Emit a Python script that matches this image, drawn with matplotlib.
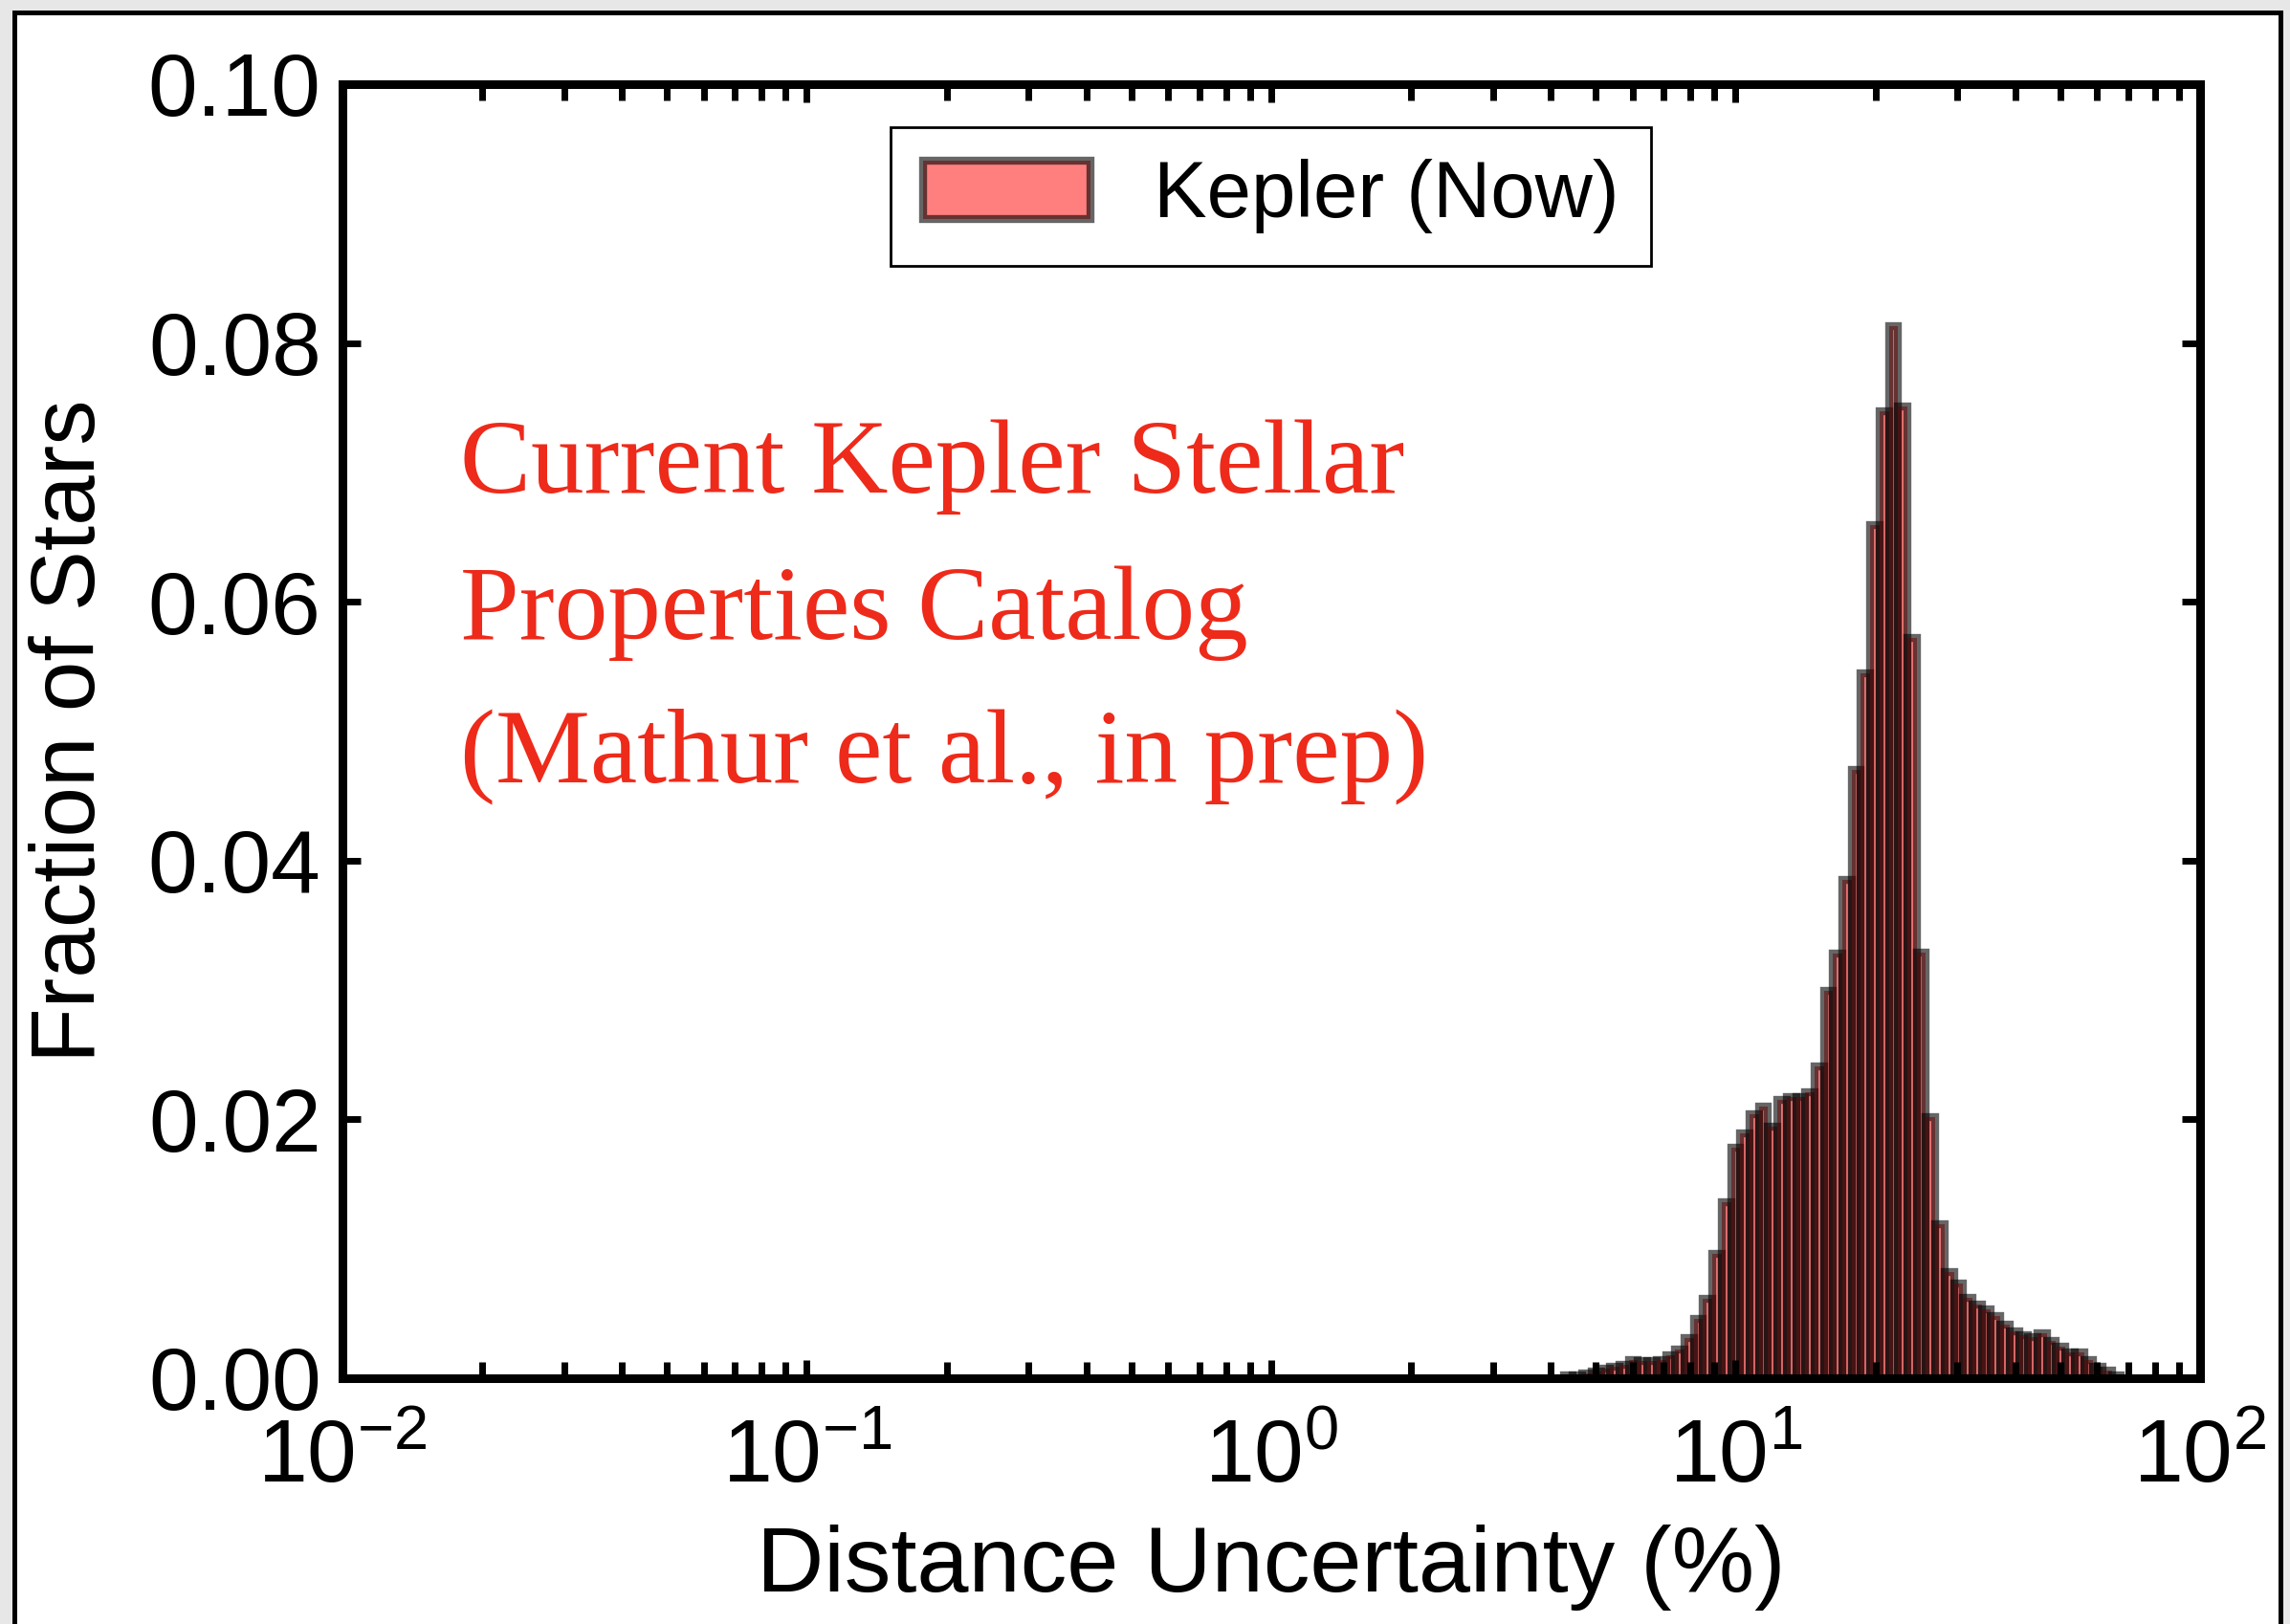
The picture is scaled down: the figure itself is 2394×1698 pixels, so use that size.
import numpy as np
import matplotlib.pyplot as plt
from matplotlib.patches import Rectangle

plt.rcParams['font.family'] = ['Liberation Sans', 'DejaVu Sans']
plt.rcParams['mathtext.fontset'] = 'custom'
plt.rcParams['mathtext.rm'] = 'Liberation Sans'
plt.rcParams['mathtext.it'] = 'Liberation Sans:italic'
plt.rcParams['mathtext.bf'] = 'Liberation Sans:bold'
plt.rcParams['axes.unicode_minus'] = False

# histogram: log-spaced bins, 0.02 dex wide
log_start = 0.63
log_step = 0.02
fractions = [0.0002, 0.0002, 0.0004, 0.0005, 0.0007, 0.0009, 0.0010, 0.0014,
             0.0013, 0.0013, 0.0014, 0.0018, 0.0022, 0.0031, 0.0046, 0.0061,
             0.0096, 0.0136, 0.0178, 0.0189, 0.0204, 0.0210, 0.0194, 0.0215,
             0.0217, 0.0217, 0.0221, 0.0241, 0.0299, 0.0328, 0.0385, 0.0470,
             0.0545, 0.0659, 0.0747, 0.0813, 0.0751, 0.0572, 0.0329, 0.0202,
             0.0119, 0.0082, 0.0073, 0.0062, 0.0057, 0.0053, 0.0048, 0.0041,
             0.0036, 0.0033, 0.0032, 0.0035, 0.0029, 0.0024, 0.0020, 0.0020,
             0.0014, 0.0009, 0.0006, 0.0002]

yticks = [0.00, 0.02, 0.04, 0.06, 0.08, 0.10]
note_lines = ['Current Kepler Stellar', 'Properties Catalog', '(Mathur et al., in prep)']
note_y = [0.684, 0.571, 0.461]

edges = 10 ** (log_start + log_step * np.arange(len(fractions) + 1))
centers = np.sqrt(edges[:-1] * edges[1:])

fig = plt.figure(figsize=(23.94, 16.98), dpi=100, facecolor='#e7e7e7')
# white slide area with black frame
fig.patches.append(Rectangle((15 / 2394, -0.05), (2384 - 15) / 2394, 1.05 - 13 / 1698,
                             transform=fig.transFigure, facecolor='white',
                             edgecolor='black', linewidth=3.6, zorder=-1))

ax = fig.add_axes([0.1495, 0.1514, 0.8112, 0.7968])
ax.set_xscale('log')
ax.hist(centers, bins=edges, weights=fractions, facecolor=(1, 0, 0, 0.5),
        edgecolor=(0, 0, 0, 0.6), linewidth=6, label='Kepler (Now)')

ax.set_xlim(1e-2, 1e2)
ax.set_ylim(0, 0.1)
ax.set_yticks(yticks)
ax.set_yticklabels(['%.2f' % v for v in yticks])

for s in ax.spines.values():
    s.set_linewidth(6.5)
ax.tick_params(which='both', direction='in', top=True, right=True, width=5, labelsize=67)
ax.tick_params(which='major', length=14)
ax.tick_params(which='minor', length=12)
ax.tick_params(axis='y', which='minor', left=False, right=False)
ax.tick_params(axis='x', which='both', pad=30)
ax.tick_params(axis='y', pad=16)

ax.set_xlabel('Distance Uncertainty (%)', fontsize=70)
ax.set_ylabel('Fraction of Stars', fontsize=68)
ax.xaxis.set_label_coords(0.5, -0.113)
ax.yaxis.set_label_coords(-0.123, 0.5)

leg = ax.legend(loc='upper center', bbox_to_anchor=(0.5, 1 - 45 / 1353), fontsize=60,
                fancybox=False, edgecolor='black', framealpha=1, borderpad=0.4,
                handlelength=2.1, handleheight=0.75, handletextpad=0.8, borderaxespad=0)
leg.get_frame().set_linewidth(2)

for txt, y in zip(note_lines, note_y):
    ax.text(0.0633, y, txt, transform=ax.transAxes, color='#ee2a1a', fontsize=80,
            family=['Liberation Serif'], va='baseline')

fig.savefig('out.png', dpi=100, facecolor=fig.get_facecolor())
